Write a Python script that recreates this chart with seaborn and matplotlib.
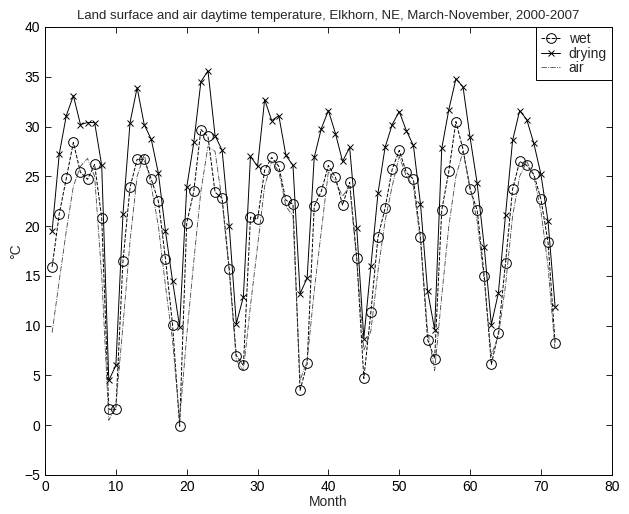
import matplotlib
matplotlib.use("Agg")
import matplotlib.pyplot as plt
import seaborn as sns
import pandas as pd

sns.set_theme(style="ticks", rc={"xtick.direction": "in", "ytick.direction": "in"})
plt.rcParams['font.family'] = ['Liberation Sans', 'DejaVu Sans']

months = list(range(1, 73))

wet = [15.9, 21.2, 24.8, 28.4, 25.4, 24.7, 26.2, 20.8, 1.6,
       1.6, 16.5, 23.9, 26.7, 26.7, 24.7, 22.5, 16.7, 10.1,
       -0.1, 20.3, 23.5, 29.7, 29.0, 23.4, 22.8, 15.7, 7.0,
       6.0, 20.9, 20.7, 25.6, 26.9, 26.0, 22.6, 22.2, 3.5,
       6.2, 22.0, 23.5, 26.1, 24.9, 22.1, 24.4, 16.8, 4.7,
       11.4, 18.9, 21.8, 25.7, 27.6, 25.4, 24.7, 18.9, 8.6,
       6.7, 21.6, 25.5, 30.5, 27.7, 23.7, 21.6, 15.0, 6.1,
       9.3, 16.3, 23.7, 26.5, 26.1, 25.2, 22.7, 18.4, 8.3]

drying = [19.5, 27.2, 31.1, 33.1, 30.2, 30.4, 30.4, 26.1, 4.5,
          6.0, 21.2, 30.4, 33.9, 30.2, 28.7, 25.3, 19.5, 14.5,
          9.9, 23.9, 28.4, 34.5, 35.6, 29.1, 27.6, 20.0, 10.2,
          12.9, 27.0, 26.0, 32.7, 30.6, 31.1, 27.1, 26.1, 13.2,
          14.8, 26.9, 29.8, 31.6, 29.3, 26.5, 27.9, 19.8, 8.7,
          16.0, 23.3, 27.9, 30.2, 31.5, 29.6, 28.1, 22.2, 13.5,
          9.6, 27.8, 31.7, 34.8, 34.0, 28.9, 24.3, 17.9, 10.1,
          13.3, 21.1, 28.6, 31.6, 30.7, 28.3, 25.2, 20.5, 11.9]

air = [9.3, 14.5, 19.5, 24.0, 26.0, 26.8, 25.0, 15.0, 0.5,
       2.0, 10.0, 18.5, 25.0, 27.2, 24.0, 20.0, 14.0, 8.5,
       0.5, 9.0, 16.5, 23.5, 28.0, 27.5, 22.5, 15.5, 6.5,
       5.5, 12.0, 18.0, 24.0, 26.5, 25.5, 22.0, 21.0, 4.5,
       6.5, 13.5, 19.5, 25.5, 24.5, 23.0, 24.0, 16.5, 7.5,
       9.5, 15.5, 20.5, 24.0, 27.0, 25.0, 24.0, 18.5, 9.5,
       5.5, 13.0, 20.0, 25.0, 27.5, 24.0, 20.5, 14.5, 7.0,
       9.0, 14.0, 21.0, 25.0, 26.5, 25.0, 21.5, 16.0, 7.5]

df = pd.DataFrame({"Month": months, "wet": wet, "drying": drying, "air": air})

fig = plt.figure(figsize=(6.29, 5.14), dpi=100)
ax = fig.add_axes([0.0716, 0.0759, 0.901, 0.8716])

sns.lineplot(data=df, x="Month", y="wet", ax=ax, color="black", linestyle="--",
             linewidth=0.7, marker="o", markersize=7, markerfacecolor="none",
             markeredgecolor="black", markeredgewidth=0.7, label="wet")
sns.lineplot(data=df, x="Month", y="drying", ax=ax, color="black", linestyle="-",
             linewidth=0.7, marker="x", markersize=5, markeredgecolor="black",
             markeredgewidth=0.7, label="drying")
sns.lineplot(data=df, x="Month", y="air", ax=ax, color="#444444", linestyle="-.",
             linewidth=0.6, label="air")

ax.set_xlim(0, 80)
ax.set_ylim(-5, 40)
ax.set_xticks(range(0, 81, 10))
ax.set_yticks(range(-5, 41, 5))
ax.tick_params(top=True, right=True, direction="in", length=4, width=0.6,
               labelsize=10, colors="black")
for s in ax.spines.values():
    s.set_visible(True)
    s.set_linewidth(0.7)
    s.set_color("black")

ax.set_title("Land surface and air daytime temperature, Elkhorn, NE, March-November, 2000-2007",
             fontsize=9.5, pad=6)
ax.set_xlabel("Month", fontsize=10, labelpad=1)
ax.set_ylabel("°C", fontsize=10, labelpad=1)

leg = ax.legend(loc="upper right", borderaxespad=0, fancybox=False, framealpha=1,
                edgecolor="black", fontsize=10, handlelength=1.4, handletextpad=0.6,
                labelspacing=0.05, borderpad=0.35)
leg.get_frame().set_linewidth(0.7)

fig.savefig("out.png", dpi=100)
